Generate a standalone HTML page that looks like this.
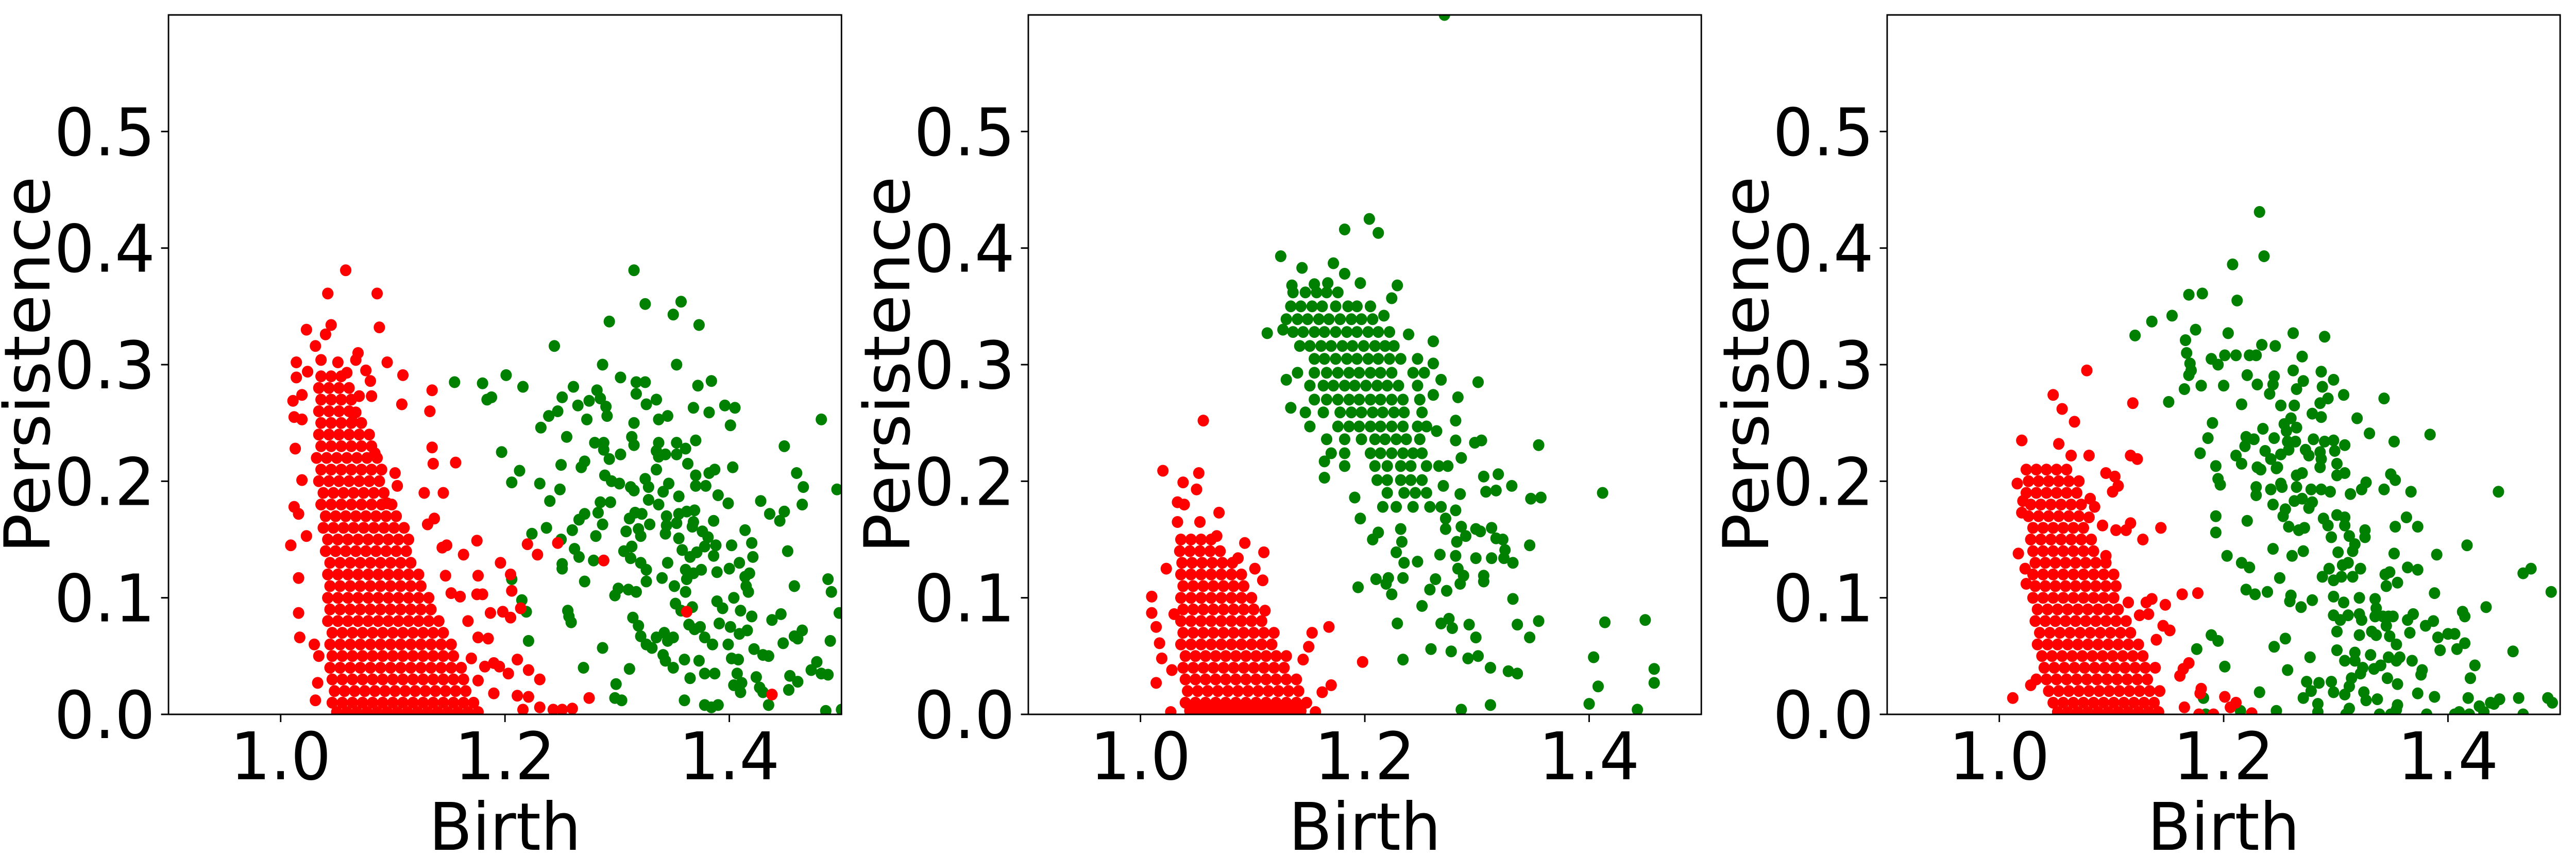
<!DOCTYPE html>
<html><head><meta charset="utf-8"><style>
html,body{margin:0;padding:0;background:#fff;overflow:hidden;width:100%;height:100%;}
svg{display:block;position:fixed;left:0;top:0;width:100vw;height:100vh;font-family:"DejaVu Sans","Liberation Sans",sans-serif;}
</style></head><body>
<svg id="fig" viewBox="0 0 5198 1662" preserveAspectRatio="none" xmlns="http://www.w3.org/2000/svg"></svg>
<script>
const xTicks=[1.0,1.2,1.4];
const xTickLabels=["1.0","1.2","1.4"];
const yTicks=[0,0.1,0.2,0.3,0.4,0.5];
const yTickLabels=["0.0","0.1","0.2","0.3","0.4","0.5"];
const xDomain=[0.9,1.5];
const yDomain=[0,0.6];
const panelNames=["panel-1","panel-2","panel-3"];

const p1Green=[[1.315,0.381],[1.325,0.352],[1.357,0.354],[1.350,0.343],[1.293,0.337],[1.373,0.334],[1.244,0.316],[1.287,0.300],[1.353,0.300],[1.201,0.291],[1.155,0.285],[1.180,0.284],[1.216,0.281],[1.303,0.289],[1.317,0.285],[1.325,0.285],[1.372,0.282],[1.384,0.286],[1.184,0.270],[1.188,0.272],[1.261,0.281],[1.282,0.278],[1.251,0.272],[1.317,0.275],[1.335,0.270],[1.285,0.271],[1.275,0.269],[1.265,0.265],[1.290,0.264],[1.326,0.266],[1.396,0.265],[1.405,0.263],[1.368,0.263],[1.247,0.260],[1.239,0.256],[1.291,0.256],[1.273,0.253],[1.345,0.256],[1.337,0.253],[1.382,0.259],[1.315,0.250],[1.401,0.248],[1.482,0.253],[1.232,0.246],[1.255,0.238],[1.313,0.238],[1.315,0.231],[1.280,0.233],[1.288,0.233],[1.288,0.227],[1.337,0.233],[1.353,0.233],[1.370,0.235],[1.361,0.228],[1.197,0.225],[1.293,0.219],[1.303,0.223],[1.335,0.226],[1.337,0.221],[1.343,0.223],[1.353,0.223],[1.449,0.230],[1.271,0.217],[1.268,0.212],[1.250,0.214],[1.335,0.210],[1.363,0.215],[1.370,0.205],[1.382,0.207],[1.387,0.210],[1.403,0.212],[1.460,0.207],[1.213,0.209],[1.206,0.199],[1.231,0.198],[1.289,0.205],[1.295,0.200],[1.302,0.198],[1.312,0.195],[1.315,0.192],[1.325,0.202],[1.328,0.195],[1.346,0.198],[1.370,0.196],[1.379,0.196],[1.466,0.195],[1.496,0.193],[1.249,0.193],[1.240,0.183],[1.285,0.182],[1.294,0.182],[1.328,0.184],[1.337,0.180],[1.341,0.191],[1.355,0.187],[1.390,0.188],[1.399,0.181],[1.428,0.183],[1.465,0.180],[1.436,0.172],[1.449,0.174],[1.445,0.166],[1.271,0.172],[1.266,0.167],[1.260,0.158],[1.283,0.173],[1.287,0.163],[1.311,0.168],[1.316,0.173],[1.322,0.172],[1.319,0.159],[1.321,0.153],[1.308,0.157],[1.329,0.163],[1.344,0.170],[1.344,0.162],[1.343,0.155],[1.353,0.164],[1.355,0.172],[1.362,0.174],[1.369,0.175],[1.368,0.165],[1.367,0.161],[1.376,0.157],[1.381,0.152],[1.386,0.166],[1.414,0.158],[1.237,0.160],[1.224,0.155],[1.250,0.150],[1.262,0.142],[1.266,0.135],[1.279,0.132],[1.281,0.153],[1.306,0.140],[1.313,0.144],[1.312,0.134],[1.321,0.130],[1.326,0.124],[1.345,0.130],[1.355,0.151],[1.358,0.141],[1.365,0.135],[1.371,0.139],[1.378,0.144],[1.386,0.136],[1.388,0.145],[1.402,0.145],[1.409,0.130],[1.420,0.147],[1.421,0.135],[1.452,0.140],[1.251,0.129],[1.251,0.125],[1.271,0.114],[1.326,0.114],[1.340,0.117],[1.361,0.124],[1.368,0.121],[1.375,0.124],[1.389,0.122],[1.400,0.125],[1.414,0.118],[1.418,0.121],[1.362,0.116],[1.351,0.110],[1.361,0.105],[1.415,0.110],[1.417,0.105],[1.458,0.110],[1.488,0.116],[1.491,0.105],[1.206,0.116],[1.215,0.098],[1.219,0.088],[1.301,0.108],[1.298,0.102],[1.310,0.107],[1.317,0.105],[1.352,0.095],[1.357,0.089],[1.367,0.092],[1.389,0.097],[1.394,0.091],[1.404,0.100],[1.410,0.089],[1.420,0.084],[1.438,0.081],[1.446,0.086],[1.498,0.087],[1.256,0.089],[1.257,0.084],[1.259,0.079],[1.314,0.083],[1.319,0.076],[1.364,0.077],[1.369,0.073],[1.374,0.075],[1.391,0.078],[1.401,0.075],[1.409,0.069],[1.416,0.072],[1.465,0.072],[1.458,0.067],[1.461,0.065],[1.221,0.063],[1.321,0.067],[1.326,0.060],[1.331,0.057],[1.335,0.066],[1.342,0.070],[1.345,0.063],[1.350,0.066],[1.378,0.066],[1.385,0.060],[1.399,0.060],[1.422,0.056],[1.448,0.061],[1.490,0.063],[1.287,0.057],[1.341,0.051],[1.343,0.046],[1.350,0.040],[1.360,0.047],[1.373,0.046],[1.402,0.048],[1.408,0.047],[1.430,0.051],[1.435,0.050],[1.478,0.045],[1.473,0.038],[1.482,0.035],[1.488,0.034],[1.270,0.040],[1.311,0.039],[1.365,0.031],[1.378,0.035],[1.387,0.035],[1.407,0.035],[1.424,0.032],[1.454,0.033],[1.461,0.028],[1.299,0.026],[1.404,0.025],[1.411,0.027],[1.410,0.019],[1.427,0.023],[1.430,0.019],[1.453,0.021],[1.298,0.014],[1.304,0.012],[1.360,0.012],[1.378,0.008],[1.384,0.006],[1.390,0.008],[1.435,0.008],[1.486,0.003],[1.500,0.004]];
const p1Red=[[1.058,0.381],[1.042,0.361],[1.086,0.361],[1.045,0.334],[1.088,0.332],[1.023,0.330],[1.040,0.326],[1.031,0.316],[1.069,0.310],[1.014,0.302],[1.051,0.302],[1.095,0.302],[1.067,0.304],[1.036,0.304],[1.014,0.289],[1.024,0.294],[1.059,0.293],[1.076,0.295],[1.109,0.291],[1.080,0.286],[1.135,0.278],[1.011,0.269],[1.019,0.274],[1.070,0.273],[1.081,0.273],[1.108,0.266],[1.133,0.260],[1.012,0.255],[1.019,0.253],[1.067,0.259],[1.064,0.251],[1.013,0.228],[1.135,0.229],[1.136,0.215],[1.156,0.216],[1.084,0.224],[1.102,0.207],[1.104,0.196],[1.019,0.201],[1.145,0.190],[1.128,0.190],[1.095,0.181],[1.012,0.178],[1.016,0.172],[1.023,0.153],[1.009,0.145],[1.137,0.168],[1.131,0.163],[1.175,0.149],[1.148,0.145],[1.144,0.143],[1.163,0.137],[1.220,0.146],[1.229,0.137],[1.247,0.147],[1.288,0.132],[1.196,0.130],[1.176,0.119],[1.147,0.119],[1.016,0.117],[1.205,0.120],[1.206,0.106],[1.152,0.104],[1.160,0.101],[1.175,0.103],[1.180,0.103],[1.214,0.091],[1.016,0.087],[1.187,0.087],[1.198,0.088],[1.205,0.083],[1.167,0.080],[1.017,0.066],[1.176,0.066],[1.185,0.065],[1.030,0.060],[1.034,0.050],[1.170,0.048],[1.211,0.047],[1.190,0.044],[1.195,0.041],[1.182,0.041],[1.221,0.038],[1.203,0.035],[1.231,0.030],[1.176,0.029],[1.033,0.027],[1.190,0.018],[1.211,0.016],[1.221,0.015],[1.275,0.014],[1.438,0.017],[1.031,0.012],[1.231,0.006],[1.216,0.004],[1.243,0.004],[1.251,0.004],[1.260,0.005],[1.362,0.088]];
const p1RedCore=[[0.290,[1.036,1.045,1.054]],[0.280,[1.034,1.043,1.052,1.061]],[0.270,[1.036,1.045,1.054,1.063]],[0.260,[1.034,1.043,1.052,1.061]],[0.250,[1.036,1.045,1.054,1.063,1.072]],[0.240,[1.034,1.043,1.052,1.061,1.070,1.079]],[0.230,[1.036,1.045,1.054,1.063,1.072,1.081]],[0.220,[1.032,1.041,1.050,1.059,1.068,1.077,1.086]],[0.210,[1.036,1.045,1.054,1.063,1.072,1.081,1.090]],[0.200,[1.034,1.043,1.052,1.061,1.070,1.079,1.088]],[0.190,[1.038,1.047,1.056,1.065,1.074,1.083,1.092]],[0.180,[1.036,1.045,1.054,1.063,1.072,1.081,1.090,1.099]],[0.170,[1.040,1.049,1.058,1.067,1.076,1.085,1.094,1.103]],[0.160,[1.038,1.047,1.056,1.065,1.074,1.083,1.092,1.101,1.110]],[0.150,[1.042,1.051,1.060,1.069,1.078,1.087,1.096,1.105,1.114]],[0.140,[1.040,1.049,1.058,1.067,1.076,1.085,1.094,1.103,1.112]],[0.130,[1.044,1.053,1.062,1.071,1.080,1.089,1.098,1.107,1.116]],[0.120,[1.042,1.051,1.060,1.069,1.078,1.087,1.096,1.105,1.114,1.123]],[0.110,[1.044,1.053,1.062,1.071,1.080,1.089,1.098,1.107,1.116,1.125]],[0.100,[1.042,1.051,1.060,1.069,1.078,1.087,1.096,1.105,1.114,1.123,1.132]],[0.090,[1.044,1.053,1.062,1.071,1.080,1.089,1.098,1.107,1.116,1.125,1.134]],[0.080,[1.042,1.051,1.060,1.069,1.078,1.087,1.096,1.105,1.114,1.123,1.132,1.141]],[0.070,[1.046,1.055,1.064,1.073,1.082,1.091,1.100,1.109,1.118,1.127,1.136,1.145]],[0.060,[1.044,1.053,1.062,1.071,1.080,1.089,1.098,1.107,1.116,1.125,1.134,1.143,1.152]],[0.050,[1.046,1.055,1.064,1.073,1.082,1.091,1.100,1.109,1.118,1.127,1.136,1.145,1.154]],[0.040,[1.044,1.053,1.062,1.071,1.080,1.089,1.098,1.107,1.116,1.125,1.134,1.143,1.152,1.161]],[0.030,[1.046,1.055,1.064,1.073,1.082,1.091,1.100,1.109,1.118,1.127,1.136,1.145,1.154,1.163]],[0.020,[1.048,1.057,1.066,1.075,1.084,1.093,1.102,1.111,1.120,1.129,1.138,1.147,1.156,1.165]],[0.010,[1.046,1.055,1.064,1.073,1.082,1.091,1.100,1.109,1.118,1.127,1.136,1.145,1.154,1.163,1.172]],[0.002,[1.050,1.059,1.068,1.077,1.086,1.095,1.104,1.113,1.122,1.131,1.140,1.149,1.158,1.167,1.176]]];

const p2Green=[[1.271,0.600],[1.204,0.425],[1.182,0.416],[1.212,0.413],[1.125,0.393],[1.172,0.387],[1.144,0.383],[1.182,0.378],[1.196,0.370],[1.229,0.368],[1.135,0.368],[1.155,0.369],[1.167,0.370],[1.224,0.357],[1.113,0.327],[1.127,0.330],[1.239,0.326],[1.261,0.320],[1.217,0.342],[1.130,0.287],[1.134,0.263],[1.301,0.285],[1.261,0.301],[1.268,0.287],[1.261,0.274],[1.283,0.272],[1.281,0.252],[1.264,0.243],[1.355,0.231],[1.281,0.235],[1.298,0.233],[1.304,0.235],[1.286,0.220],[1.164,0.203],[1.164,0.217],[1.191,0.186],[1.196,0.168],[1.306,0.204],[1.319,0.206],[1.331,0.196],[1.308,0.191],[1.317,0.192],[1.285,0.189],[1.412,0.190],[1.348,0.185],[1.357,0.186],[1.270,0.196],[1.281,0.175],[1.272,0.168],[1.272,0.159],[1.286,0.161],[1.299,0.159],[1.303,0.157],[1.313,0.160],[1.317,0.151],[1.323,0.150],[1.290,0.153],[1.282,0.148],[1.347,0.145],[1.325,0.141],[1.324,0.134],[1.332,0.130],[1.299,0.134],[1.313,0.134],[1.281,0.136],[1.283,0.125],[1.288,0.119],[1.285,0.112],[1.306,0.119],[1.306,0.114],[1.267,0.137],[1.247,0.131],[1.228,0.139],[1.235,0.130],[1.207,0.150],[1.212,0.156],[1.232,0.159],[1.233,0.148],[1.263,0.116],[1.258,0.107],[1.273,0.106],[1.251,0.093],[1.210,0.116],[1.221,0.117],[1.219,0.112],[1.234,0.117],[1.224,0.103],[1.194,0.109],[1.332,0.099],[1.229,0.078],[1.268,0.078],[1.275,0.082],[1.278,0.074],[1.293,0.077],[1.336,0.077],[1.355,0.080],[1.414,0.079],[1.450,0.081],[1.347,0.066],[1.299,0.066],[1.259,0.056],[1.277,0.054],[1.234,0.047],[1.292,0.048],[1.301,0.050],[1.312,0.040],[1.328,0.037],[1.336,0.035],[1.404,0.049],[1.458,0.039],[1.458,0.027],[1.408,0.024],[1.400,0.009],[1.312,0.008],[1.286,0.004],[1.443,0.004]];
const p2GreenCore=[[0.362,[1.136,1.147,1.157,1.166,1.176]],[0.350,[1.134,1.143,1.153,1.162,1.174,1.185,1.193,1.205]],[0.339,[1.130,1.140,1.149,1.159,1.168,1.178,1.188,1.197,1.207]],[0.328,[1.136,1.145,1.155,1.164,1.174,1.184,1.193,1.203,1.212,1.222]],[0.316,[1.142,1.151,1.161,1.170,1.180,1.189,1.199,1.209,1.218,1.226]],[0.305,[1.155,1.164,1.174,1.184,1.193,1.203,1.212,1.222,1.232,1.247]],[0.293,[1.140,1.155,1.166,1.176,1.186,1.195,1.205,1.214,1.224,1.243,1.253]],[0.282,[1.151,1.163,1.172,1.182,1.191,1.201,1.211,1.220,1.230,1.247]],[0.270,[1.155,1.166,1.176,1.186,1.195,1.205,1.214,1.224,1.234,1.249]],[0.259,[1.147,1.163,1.178,1.188,1.197,1.207,1.216,1.226,1.235,1.251]],[0.247,[1.151,1.176,1.186,1.195,1.205,1.214,1.224,1.234,1.247,1.255]],[0.236,[1.166,1.182,1.197,1.209,1.218,1.228,1.237,1.249]],[0.224,[1.170,1.182,1.205,1.214,1.224,1.234,1.243,1.251]],[0.213,[1.182,1.209,1.220,1.232,1.241,1.255,1.266,1.274]],[0.201,[1.211,1.220,1.232,1.241,1.251]],[0.190,[1.220,1.235,1.245,1.255]],[0.178,[1.216,1.228,1.243,1.258,1.268]]];
const p2Red=[[1.056,0.252],[1.020,0.209],[1.052,0.207],[1.038,0.199],[1.050,0.193],[1.033,0.182],[1.039,0.180],[1.070,0.173],[1.033,0.165],[1.053,0.165],[1.068,0.153],[1.093,0.147],[1.110,0.139],[1.087,0.134],[1.023,0.125],[1.102,0.125],[1.109,0.115],[1.010,0.101],[1.010,0.087],[1.030,0.086],[1.111,0.089],[1.014,0.075],[1.168,0.075],[1.153,0.070],[1.017,0.061],[1.150,0.058],[1.019,0.048],[1.145,0.047],[1.198,0.045],[1.028,0.038],[1.014,0.027],[1.170,0.025],[1.162,0.019],[1.156,0.002],[1.027,0.002]];
const p2RedCore=[[0.150,[1.036,1.045,1.054,1.063]],[0.140,[1.035,1.044,1.053,1.062,1.071]],[0.130,[1.037,1.046,1.055,1.064,1.073,1.082]],[0.120,[1.036,1.045,1.054,1.063,1.072,1.081,1.090]],[0.110,[1.038,1.047,1.056,1.065,1.074,1.083,1.092]],[0.100,[1.036,1.045,1.054,1.063,1.072,1.081,1.090,1.099]],[0.090,[1.038,1.047,1.056,1.065,1.074,1.083,1.092,1.101]],[0.080,[1.036,1.045,1.054,1.063,1.072,1.081,1.090,1.099,1.108]],[0.070,[1.038,1.047,1.056,1.065,1.074,1.083,1.092,1.101,1.110,1.119]],[0.060,[1.036,1.045,1.054,1.063,1.072,1.081,1.090,1.099,1.108,1.117]],[0.050,[1.040,1.049,1.058,1.067,1.076,1.085,1.094,1.103,1.112,1.121,1.130]],[0.040,[1.038,1.047,1.056,1.065,1.074,1.083,1.092,1.101,1.110,1.119,1.128]],[0.030,[1.040,1.049,1.058,1.067,1.076,1.085,1.094,1.103,1.112,1.121,1.130,1.139]],[0.020,[1.042,1.051,1.060,1.069,1.078,1.087,1.096,1.105,1.114,1.123,1.132,1.141]],[0.010,[1.040,1.049,1.058,1.067,1.076,1.085,1.094,1.103,1.112,1.121,1.130,1.139,1.148]],[0.003,[1.044,1.053,1.062,1.071,1.080,1.089,1.098,1.107,1.116,1.125,1.134,1.143]]];

const p3Green=[[1.232,0.431],[1.236,0.393],[1.208,0.386],[1.169,0.360],[1.181,0.361],[1.212,0.355],[1.154,0.342],[1.136,0.337],[1.121,0.325],[1.175,0.330],[1.166,0.321],[1.204,0.327],[1.262,0.327],[1.290,0.324],[1.234,0.317],[1.246,0.316],[1.270,0.307],[1.167,0.310],[1.170,0.301],[1.171,0.295],[1.169,0.291],[1.189,0.305],[1.195,0.300],[1.201,0.308],[1.211,0.308],[1.223,0.308],[1.229,0.308],[1.221,0.291],[1.245,0.290],[1.244,0.283],[1.230,0.283],[1.262,0.295],[1.271,0.286],[1.265,0.279],[1.241,0.275],[1.287,0.294],[1.298,0.287],[1.288,0.281],[1.307,0.274],[1.293,0.271],[1.286,0.267],[1.343,0.271],[1.165,0.279],[1.180,0.282],[1.200,0.282],[1.151,0.268],[1.216,0.266],[1.251,0.265],[1.263,0.265],[1.279,0.258],[1.287,0.255],[1.319,0.254],[1.260,0.254],[1.254,0.249],[1.265,0.246],[1.256,0.243],[1.330,0.241],[1.384,0.240],[1.190,0.250],[1.186,0.237],[1.220,0.238],[1.219,0.230],[1.227,0.236],[1.235,0.245],[1.245,0.237],[1.257,0.234],[1.264,0.234],[1.280,0.236],[1.290,0.234],[1.298,0.235],[1.308,0.231],[1.352,0.234],[1.237,0.226],[1.258,0.227],[1.273,0.227],[1.276,0.222],[1.286,0.225],[1.299,0.226],[1.287,0.219],[1.179,0.224],[1.211,0.222],[1.216,0.215],[1.251,0.223],[1.242,0.219],[1.193,0.213],[1.230,0.212],[1.233,0.210],[1.248,0.212],[1.301,0.215],[1.247,0.211],[1.270,0.207],[1.265,0.205],[1.308,0.207],[1.301,0.205],[1.286,0.212],[1.195,0.202],[1.197,0.197],[1.229,0.195],[1.242,0.193],[1.251,0.198],[1.252,0.195],[1.265,0.195],[1.278,0.193],[1.287,0.193],[1.295,0.191],[1.313,0.189],[1.323,0.193],[1.327,0.199],[1.343,0.193],[1.367,0.191],[1.445,0.191],[1.229,0.188],[1.263,0.183],[1.270,0.185],[1.279,0.182],[1.244,0.180],[1.255,0.176],[1.276,0.177],[1.253,0.170],[1.193,0.170],[1.193,0.156],[1.221,0.166],[1.258,0.161],[1.272,0.160],[1.267,0.158],[1.289,0.168],[1.293,0.162],[1.301,0.171],[1.308,0.169],[1.308,0.162],[1.312,0.153],[1.296,0.152],[1.326,0.158],[1.326,0.152],[1.363,0.169],[1.353,0.161],[1.373,0.161],[1.317,0.146],[1.315,0.140],[1.302,0.139],[1.244,0.142],[1.271,0.140],[1.261,0.136],[1.203,0.136],[1.352,0.138],[1.390,0.137],[1.417,0.145],[1.216,0.130],[1.223,0.126],[1.294,0.125],[1.306,0.128],[1.311,0.130],[1.322,0.125],[1.250,0.117],[1.288,0.118],[1.298,0.115],[1.305,0.118],[1.315,0.118],[1.344,0.120],[1.348,0.122],[1.345,0.110],[1.355,0.113],[1.364,0.126],[1.373,0.124],[1.467,0.121],[1.474,0.125],[1.492,0.105],[1.388,0.104],[1.220,0.107],[1.228,0.103],[1.239,0.105],[1.260,0.102],[1.259,0.097],[1.269,0.092],[1.279,0.098],[1.298,0.101],[1.307,0.096],[1.321,0.100],[1.335,0.099],[1.336,0.091],[1.335,0.084],[1.342,0.084],[1.347,0.084],[1.351,0.084],[1.298,0.085],[1.304,0.081],[1.311,0.085],[1.321,0.086],[1.323,0.081],[1.301,0.071],[1.321,0.068],[1.332,0.071],[1.336,0.068],[1.345,0.076],[1.348,0.067],[1.364,0.081],[1.369,0.086],[1.366,0.070],[1.380,0.076],[1.387,0.080],[1.391,0.066],[1.400,0.069],[1.406,0.069],[1.413,0.088],[1.415,0.084],[1.434,0.092],[1.415,0.061],[1.408,0.056],[1.354,0.060],[1.393,0.055],[1.458,0.054],[1.189,0.068],[1.195,0.063],[1.255,0.065],[1.245,0.058],[1.176,0.056],[1.277,0.049],[1.301,0.055],[1.317,0.053],[1.317,0.046],[1.308,0.046],[1.331,0.051],[1.324,0.040],[1.322,0.035],[1.334,0.039],[1.340,0.042],[1.347,0.049],[1.357,0.049],[1.354,0.046],[1.368,0.046],[1.377,0.038],[1.376,0.034],[1.424,0.042],[1.420,0.031],[1.201,0.041],[1.257,0.038],[1.314,0.031],[1.312,0.024],[1.346,0.031],[1.355,0.026],[1.274,0.028],[1.285,0.027],[1.296,0.028],[1.278,0.020],[1.298,0.019],[1.308,0.017],[1.325,0.019],[1.327,0.012],[1.337,0.013],[1.373,0.018],[1.388,0.015],[1.418,0.014],[1.463,0.014],[1.438,0.010],[1.446,0.013],[1.441,0.009],[1.428,0.007],[1.432,0.002],[1.489,0.014],[1.493,0.010],[1.232,0.019],[1.271,0.014],[1.182,0.014],[1.215,0.003],[1.247,0.003],[1.284,0.009],[1.284,0.002],[1.312,0.005],[1.355,0.008],[1.354,0.004],[1.339,0.000],[1.349,0.000],[1.309,0.000],[1.381,0.000],[1.410,0.002],[1.419,0.000],[1.406,0.000],[1.467,0.000],[1.184,0.000],[1.349,0.206],[1.353,0.201]];
const p3Red=[[1.078,0.295],[1.048,0.274],[1.056,0.262],[1.067,0.251],[1.119,0.267],[1.020,0.235],[1.053,0.232],[1.064,0.222],[1.080,0.222],[1.117,0.222],[1.123,0.219],[1.095,0.207],[1.103,0.204],[1.106,0.196],[1.101,0.191],[1.081,0.185],[1.085,0.178],[1.080,0.169],[1.144,0.160],[1.117,0.164],[1.113,0.158],[1.104,0.158],[1.128,0.150],[1.092,0.162],[1.017,0.138],[1.095,0.136],[1.163,0.103],[1.177,0.104],[1.148,0.094],[1.136,0.099],[1.131,0.096],[1.115,0.096],[1.125,0.085],[1.133,0.086],[1.146,0.076],[1.152,0.072],[1.140,0.064],[1.169,0.044],[1.164,0.039],[1.161,0.033],[1.180,0.022],[1.179,0.018],[1.201,0.015],[1.206,0.006],[1.211,0.010],[1.225,0.001],[1.178,0.000],[1.191,0.000],[1.165,0.006],[1.012,0.014],[1.028,0.025],[1.033,0.030],[1.024,0.112],[1.023,0.125],[1.021,0.183],[1.020,0.173],[1.016,0.198]];
const p3RedCore=[[0.210,[1.024,1.033,1.042,1.051,1.060]],[0.200,[1.026,1.035,1.044,1.053,1.062,1.071]],[0.190,[1.024,1.033,1.042,1.051,1.060,1.069]],[0.180,[1.028,1.037,1.046,1.055,1.064,1.073]],[0.170,[1.026,1.035,1.044,1.053,1.062,1.071]],[0.160,[1.030,1.039,1.048,1.057,1.066,1.075]],[0.150,[1.028,1.037,1.046,1.055,1.064,1.073,1.082]],[0.140,[1.030,1.039,1.048,1.057,1.066,1.075,1.084]],[0.130,[1.032,1.041,1.050,1.059,1.068,1.077,1.086,1.095]],[0.120,[1.030,1.039,1.048,1.057,1.066,1.075,1.084,1.093,1.102]],[0.110,[1.032,1.041,1.050,1.059,1.068,1.077,1.086,1.095,1.104]],[0.100,[1.030,1.039,1.048,1.057,1.066,1.075,1.084,1.093,1.102]],[0.090,[1.034,1.043,1.052,1.061,1.070,1.079,1.088,1.097,1.106]],[0.080,[1.032,1.041,1.050,1.059,1.068,1.077,1.086,1.095,1.104,1.113]],[0.070,[1.036,1.045,1.054,1.063,1.072,1.081,1.090,1.099,1.108,1.117]],[0.060,[1.034,1.043,1.052,1.061,1.070,1.079,1.088,1.097,1.106,1.115,1.124]],[0.050,[1.038,1.047,1.056,1.065,1.074,1.083,1.092,1.101,1.110,1.119,1.128]],[0.040,[1.040,1.049,1.058,1.067,1.076,1.085,1.094,1.103,1.112,1.121,1.130,1.139]],[0.030,[1.042,1.051,1.060,1.069,1.078,1.087,1.096,1.105,1.114,1.123,1.132]],[0.020,[1.044,1.053,1.062,1.071,1.080,1.089,1.098,1.107,1.116,1.125,1.134,1.143]],[0.010,[1.048,1.057,1.066,1.075,1.084,1.093,1.102,1.111,1.120,1.129,1.138]],[0.002,[1.052,1.061,1.070,1.079,1.088,1.097,1.106,1.115,1.124,1.133,1.142]]];

const NS="http://www.w3.org/2000/svg";
const svg=document.getElementById('fig');
const panelLeft=[340,2075,3808];
const plotTop=29,plotBottom=1387,plotW=1358;
function mk(tag,attrs,parent){const e=document.createElementNS(NS,tag);for(const k in attrs)e.setAttribute(k,attrs[k]);parent.appendChild(e);return e;}
function flatten(core){const out=[];core.forEach(r=>r[1].forEach(x=>out.push([x,r[0]])));return out;}
const panels=[
 {green:p1Green,red:p1Red.concat(flatten(p1RedCore))},
 {green:p2Green.concat(flatten(p2GreenCore)),red:p2Red.concat(flatten(p2RedCore))},
 {green:p3Green,red:p3Red.concat(flatten(p3RedCore))}
];
panels.forEach((p,i)=>{
  const L=panelLeft[i];
  const sx=v=>L+(v-xDomain[0])/(xDomain[1]-xDomain[0])*plotW;
  const sy=v=>plotBottom-(v-yDomain[0])/(yDomain[1]-yDomain[0])*(plotBottom-plotTop);
  const g=mk('g',{},svg);
  
  
  const clipId='clip'+i;
  const cp=mk('clipPath',{id:clipId},g);
  mk('rect',{x:L,y:plotTop,width:plotW,height:plotBottom-plotTop},cp);
  const pts=mk('g',{'clip-path':'url(#'+clipId+')'},g);
  
  
  const gg=mk('g',{fill:'#008000'},pts);
  
  
  p.green.forEach(d=>{const c=mk('circle',{cx:sx(d[0]).toFixed(1),cy:sy(d[1]).toFixed(1),r:11.5},gg);
    
    });
  const rg=mk('g',{fill:'#ff0000'},pts);
  
  
  p.red.forEach(d=>{const c=mk('circle',{cx:sx(d[0]).toFixed(1),cy:sy(d[1]).toFixed(1),r:11.5},rg);
    
    });
  const fr=mk('rect',{x:L,y:plotTop,width:plotW,height:plotBottom-plotTop,fill:'none',stroke:'#000','stroke-width':3},g);
  
  
  xTicks.forEach((t,j)=>{
    const x=sx(t);
    const tk=mk('line',{x1:x,x2:x,y1:plotBottom,y2:plotBottom+15,stroke:'#000','stroke-width':3},g);
    
    
    const tx=mk('text',{x:x,y:1513,'text-anchor':'middle','font-size':128,fill:'#000'},g);
    tx.textContent=xTickLabels[j];
    
    
  });
  yTicks.forEach((t,j)=>{
    const y=sy(t);
    const tk=mk('line',{x1:L-15,x2:L,y1:y,y2:y,stroke:'#000','stroke-width':3},g);
    
    
    const tx=mk('text',{x:L-27,y:y+46,'text-anchor':'end','font-size':128,fill:'#000'},g);
    tx.textContent=yTickLabels[j];
    
    
  });
  const xl=mk('text',{x:L+plotW/2,y:1650,'text-anchor':'middle','font-size':128,fill:'#000'},g);
  xl.textContent='Birth';
  
  
  const lx=L-240, ly=(plotTop+plotBottom)/2;
  const yl=mk('text',{x:lx,y:ly,'text-anchor':'middle','font-size':128,fill:'#000',transform:'rotate(-90 '+lx+' '+ly+')'},g);
  yl.textContent='Persistence';
  
  
});
</script>
</body></html>
